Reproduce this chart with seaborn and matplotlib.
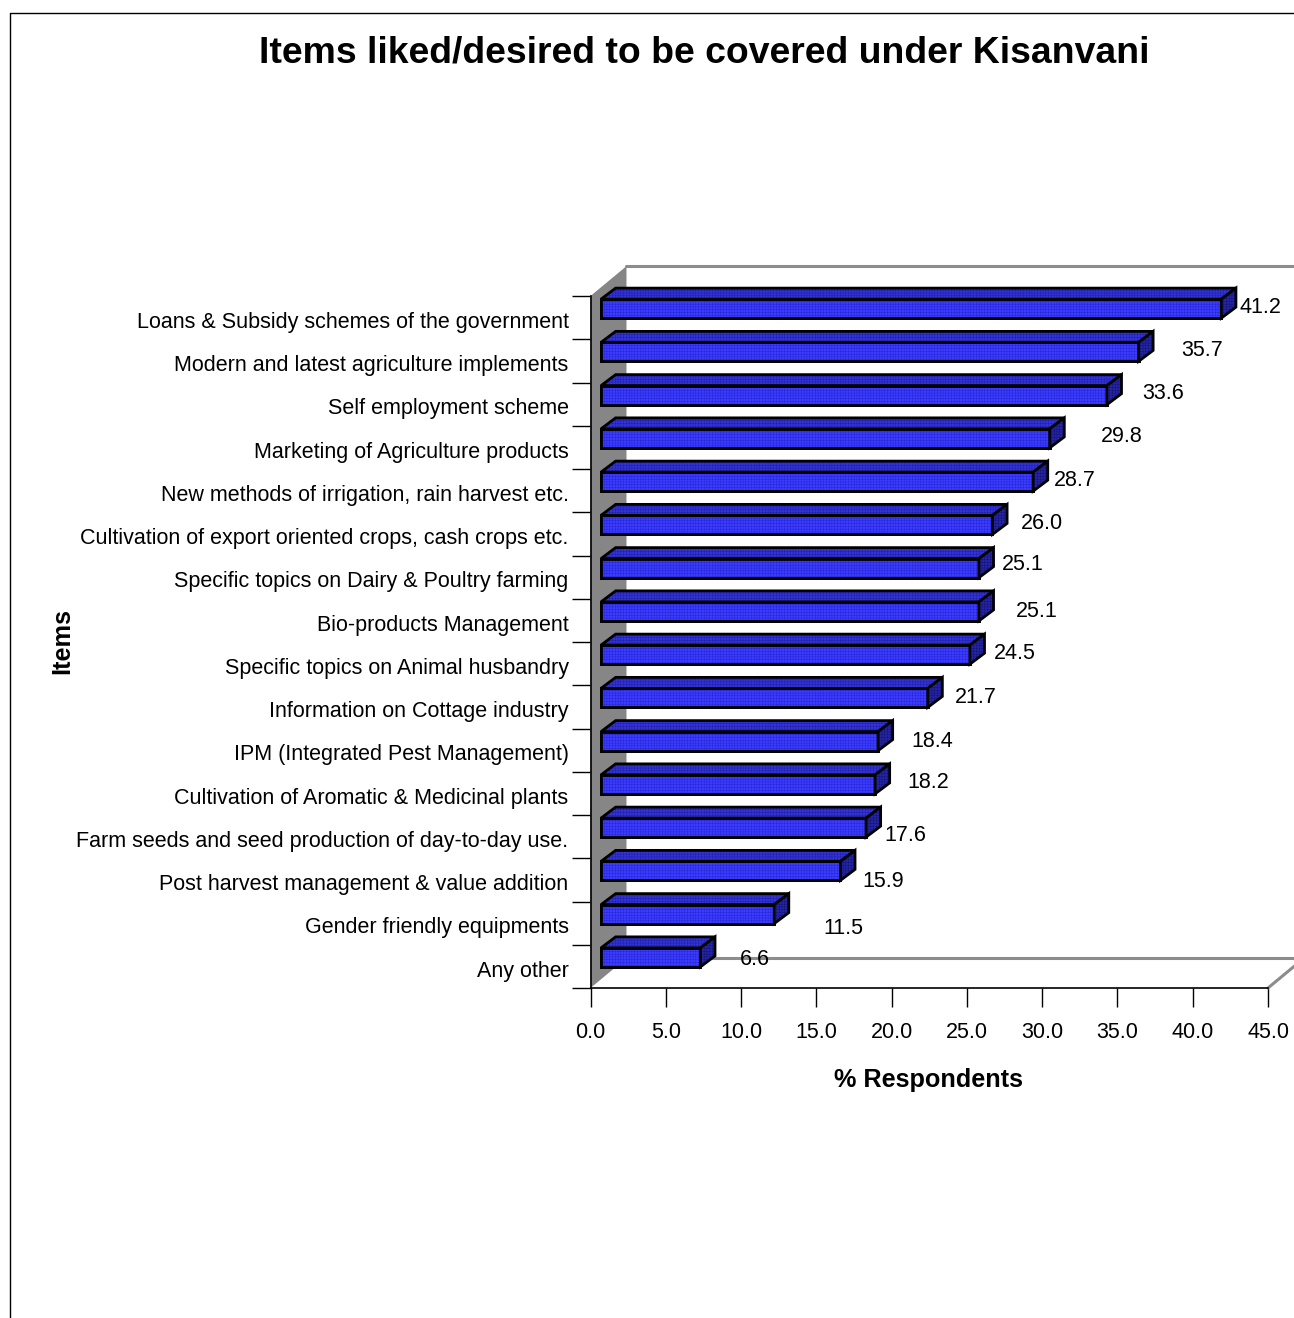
import numpy as np
import pandas as pd
import seaborn as sns
import matplotlib
matplotlib.use('Agg')
import matplotlib.pyplot as plt
from matplotlib.lines import Line2D
from matplotlib.patches import Polygon

items = [
    "Loans & Subsidy schemes of the government",
    "Modern and latest agriculture implements",
    "Self employment scheme",
    "Marketing of Agriculture products",
    "New methods of irrigation, rain harvest etc.",
    "Cultivation of export oriented crops, cash crops etc.",
    "Specific topics on Dairy & Poultry farming",
    "Bio-products Management",
    "Specific topics on Animal husbandry",
    "Information on Cottage industry",
    "IPM (Integrated Pest Management)",
    "Cultivation of Aromatic & Medicinal plants",
    "Farm seeds and seed production of day-to-day use.",
    "Post harvest management & value addition",
    "Gender friendly equipments",
    "Any other",
]
respondents = [41.2, 35.7, 33.6, 29.8, 28.7, 26.0, 25.1, 25.1, 24.5, 21.7, 18.4, 18.2, 17.6, 15.9, 11.5, 6.6]
x_ticks = [0, 5, 10, 15, 20, 25, 30, 35, 40, 45]

# value labels are scattered in the original, pixel offsets from the bar end
label_dx = [39, 64, 56, 72, 42, 49, 44, 58, 45, 48, 54, 53, 39, 43, 69, 54]
label_dy = [1, 1, 2, 2, 1, 1, 4, 0, 1, 0, 0, 2, -8, -11, -14, -2]

W, H = 1294, 1318
FS = 15.5
EDGE = 2.0
sns.set_theme(style='white')
plt.rcParams['font.family'] = ['Liberation Sans', 'DejaVu Sans']
plt.rcParams['hatch.linewidth'] = 0.3

fig = plt.figure(figsize=(W / 100, H / 100), dpi=100)
ax = fig.add_axes([590.5 / W, 1 - 988 / H, (1268 - 590.5) / W, (988 - 296) / H])

df = pd.DataFrame({'item': items, 'pct': respondents})
sns.barplot(data=df, x='pct', y='item', orient='h', width=0.44, color='#3C3CFF', saturation=1,
            edgecolor='black', linewidth=EDGE, ax=ax, zorder=5)

ax.set_xlim(0, 45)
ax.set_ylim(15.5, -0.5)

# depth of the fake 3d, in data units
wall_x, wall_y = 2.39, 0.69
bar_x, bar_y = 0.97, 0.254
start = 0.7
shift = -0.208


def face(pts, fill, grid):
    # solid fill, fine grid texture, then black outline
    ax.add_patch(Polygon(pts, closed=True, fc=fill, ec='none', zorder=5, clip_on=False))
    ax.add_patch(Polygon(pts, closed=True, fc='none', ec=grid, lw=0, hatch='++++++', zorder=5, clip_on=False))
    ax.add_patch(Polygon(pts, closed=True, fc='none', ec='black', lw=EDGE, zorder=5, clip_on=False))


# side wall and back lines
ax.add_patch(Polygon([(0, -0.5), (wall_x, -0.5 - wall_y), (wall_x, 15.5 - wall_y), (0, 15.5)],
                     closed=True, fc='#868686', ec='none', zorder=1, clip_on=False))
ax.plot([wall_x, 49], [-0.5 - wall_y] * 2, color='#8c8c8c', lw=2.2, zorder=1, clip_on=False)
ax.plot([wall_x, 49], [15.5 - wall_y] * 2, color='#8c8c8c', lw=2.2, zorder=1, clip_on=False)
ax.plot([45, 47], [15.5, 15.5 - 2 * wall_y / wall_x], color='#8c8c8c', lw=2.2, zorder=1, clip_on=False)

for i, patch in enumerate(ax.patches[:len(respondents)]):
    v = respondents[i]
    patch.set_x(start)
    patch.set_y(patch.get_y() + shift)
    y0 = patch.get_y()
    y1 = y0 + patch.get_height()
    x1 = start + v
    face([(start, y0), (x1, y0), (x1, y1), (start, y1)], '#3C3CFF', '#2222CC')
    face([(start, y0), (x1, y0), (x1 + bar_x, y0 - bar_y), (start + bar_x, y0 - bar_y)], '#3333D6', '#1C1CA0')
    face([(x1, y0), (x1 + bar_x, y0 - bar_y), (x1 + bar_x, y1 - bar_y), (x1, y1)], '#2525A4', '#10106C')
    ax.annotate(f"{v:.1f}", (x1, (y0 + y1) / 2), xytext=(label_dx[i], label_dy[i]), textcoords='offset pixels',
                ha='center', va='center', fontsize=FS, color='black', zorder=8, annotation_clip=False)

# ticks on the band edges, labels between them
ax.set_yticks(np.arange(-0.5, 16, 1))
ax.set_yticklabels([])
ax.set_yticks(np.arange(len(items)) + 0.05, labels=items, minor=True)
ax.tick_params(axis='y', which='major', left=True, length=13.7, width=1, color='black')
ax.tick_params(axis='y', which='minor', left=False, length=0, pad=15.8, labelsize=FS, labelcolor='black')
ax.set_xticks(x_ticks)
ax.set_xticklabels([f"{t:.1f}" for t in x_ticks])
ax.tick_params(axis='x', bottom=True, length=13.7, width=1, color='black', pad=11, labelsize=FS, labelcolor='black')

ax.set_xlabel('')
ax.set_ylabel('')
for side in ['top', 'right']:
    ax.spines[side].set_visible(False)
for side in ['left', 'bottom']:
    ax.spines[side].set_color('black')
    ax.spines[side].set_linewidth(1.2)
    ax.spines[side].set_zorder(3)
ax.patch.set_alpha(0)

fig.text(704 / W, 1 - 53 / H, 'Items liked/desired to be covered under Kisanvani', ha='center', va='center',
         fontsize=26.9, fontweight='bold', color='black')
fig.text(929 / W, 1 - 1080 / H, '% Respondents', ha='center', va='center', fontsize=18.2, fontweight='bold', color='black')
fig.text(62 / W, 1 - 641 / H, 'Items', ha='center', va='center', rotation=90, fontsize=18.2, fontweight='bold', color='black')

# page frame, only top and left are inside the crop
fig.add_artist(Line2D([9.5 / W, 9.5 / W, 1], [0, 1 - 12.5 / H, 1 - 12.5 / H], color='black', lw=1))

fig.savefig('out.png', dpi=100)
